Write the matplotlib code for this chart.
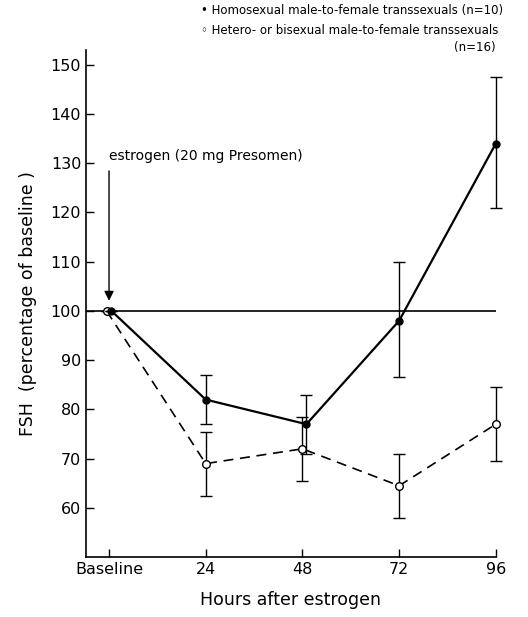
import matplotlib
matplotlib.use("Agg")
import matplotlib.pyplot as plt

# FSH response after estrogen, percentage of baseline
hours = [0, 24, 48, 72, 96]
tick_labels = ["Baseline", "24", "48", "72", "96"]

homo_x = [0.6, 24, 49, 72, 96]
homo = [100, 82, 77, 98, 134]
homo_lo = [0, 5, 6, 11.5, 13]
homo_hi = [0, 5, 6, 12, 13.5]

hetero_x = [-0.6, 24, 48, 72, 96]
hetero = [100, 69, 72, 64.5, 77]
hetero_err = [0, 6.5, 6.5, 6.5, 7.5]

fig = plt.figure(figsize=(5.28, 6.17), dpi=100)
ax = fig.add_axes([0.163, 0.097, 0.776, 0.822])

ax.axhline(100, color="black", lw=1.2, zorder=1)

eb1 = ax.errorbar(homo_x, homo, yerr=[homo_lo, homo_hi], fmt="-o", color="black",
                  mfc="black", ms=5, lw=1.6, elinewidth=1, capsize=4, capthick=1,
                  zorder=3)
eb2 = ax.errorbar(hetero_x, hetero, yerr=hetero_err, fmt="--o", color="black",
                  mfc="white", ms=5.5, lw=1.2, elinewidth=1, capsize=4, capthick=1,
                  dashes=(6, 4), zorder=2)
for eb in (eb1, eb2):
    for art in eb.get_children():
        art.set_clip_on(False)

ax.annotate("", xy=(0, 101.5), xytext=(0, 129),
            arrowprops=dict(arrowstyle="-|>", color="black", lw=1,
                            mutation_scale=14))
ax.text(0, 131.5, "estrogen (20 mg Presomen)", fontsize=10, va="center",
        ha="left")

ax.set_xlim(-5.7, 96)
ax.set_ylim(50, 153)
ax.set_xticks(hours)
ax.set_xticklabels(tick_labels)
ax.set_yticks(range(60, 151, 10))
ax.tick_params(direction="in", length=6, labelsize=11.5, width=1)
ax.spines["top"].set_visible(False)
ax.spines["right"].set_visible(False)
ax.spines["left"].set_linewidth(1.2)
ax.spines["bottom"].set_linewidth(1.2)

ax.set_xlabel("Hours after estrogen", fontsize=12.5, labelpad=10)
ax.set_ylabel("FSH  (percentage of baseline )", fontsize=12.5, labelpad=10)

fig.text(0.38, 0.983, "\u2022 Homosexual male-to-female transsexuals (n=10)",
         fontsize=8.5, va="center")
fig.text(0.38, 0.951, "\u25e6 Hetero- or bisexual male-to-female transsexuals",
         fontsize=8.5, va="center")
fig.text(0.86, 0.923, "(n=16)", fontsize=8.5, va="center")

fig.savefig("out.png", dpi=100)
